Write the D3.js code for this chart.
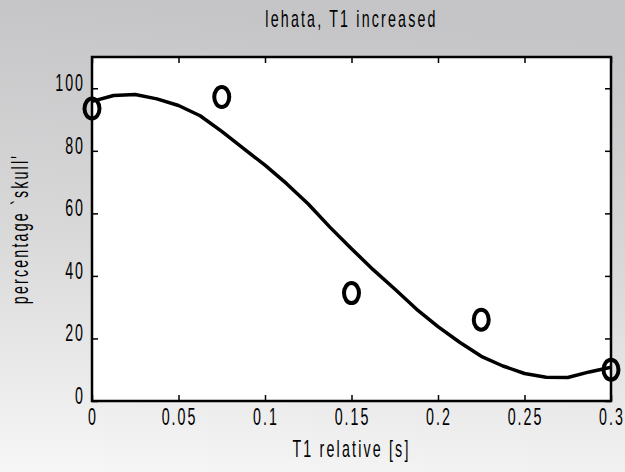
<!DOCTYPE html>
<html><head><meta charset="utf-8">
<script src="https://cdn.jsdelivr.net/npm/d3@7"></script>
<style>
html,body{margin:0;padding:0;overflow:hidden;}
</style></head>
<body>
<svg id="chart" width="625" height="472"></svg>
<script>
// data
const pointX = [0, 0.075, 0.15, 0.225, 0.3];
const pointY = [93.5, 97.2, 34.5, 26, 10];
const curveX = [0,0.0125,0.025,0.0375,0.05,0.0625,0.075,0.0875,0.1,0.1125,0.125,0.1375,0.15,0.1625,0.175,0.1875,0.2,0.2125,0.225,0.2375,0.25,0.2625,0.275,0.2875,0.3];
const curveY = [95.8,97.7,98.0,96.6,94.5,91.2,86.2,80.8,75.4,69.5,63.0,55.6,48.7,42.0,35.8,29.4,23.8,18.8,14.3,11.2,8.8,7.6,7.5,9.3,10.8];
const xTicks = [0,0.05,0.1,0.15,0.2,0.25,0.3];
const xTickLabels = ["0","0.05","0.1","0.15","0.2","0.25","0.3"];
const yTicks = [0,20,40,60,80,100];
const yTickLabels = ["0","20","40","60","80","100"];
const title = "lehata, T1 increased";
const xLabel = "T1 relative [s]";
const yLabel = "percentage `skull'";

const W = 625, H = 472;
const L = 92, R = 611, T = 57, B = 401;
const SX = 0.62;       // horizontal condensing of the font
const FS = 23;          // font size
const svg = d3.select("#chart");

// background
const defs = svg.append("defs");
const g = defs.append("linearGradient").attr("id","bg").attr("x1","0.1").attr("y1","0").attr("x2","0").attr("y2","1");
g.append("stop").attr("offset","0").attr("stop-color","#c5c5c7");
g.append("stop").attr("offset","0.5").attr("stop-color","#d9d9da");
g.append("stop").attr("offset","1").attr("stop-color","#f7f7f7");
svg.append("rect").attr("width",W).attr("height",H).attr("fill","url(#bg)");

const x = d3.scaleLinear().domain([0,0.3]).range([L,R]);
const y = d3.scaleLinear().domain([0,110]).range([B,T]);

svg.append("rect").attr("x",L).attr("y",T).attr("width",R-L).attr("height",B-T).attr("fill","#fff");

const tickLen = 6;
const xb = svg.append("g").attr("transform",`translate(0,${B})`)
  .call(d3.axisBottom(x).tickValues(xTicks).tickFormat("").tickSizeInner(-tickLen).tickSizeOuter(0));
const xt = svg.append("g").attr("transform",`translate(0,${T})`)
  .call(d3.axisTop(x).tickValues(xTicks).tickFormat("").tickSizeInner(-tickLen).tickSizeOuter(0));
const yl = svg.append("g").attr("transform",`translate(${L},0)`)
  .call(d3.axisLeft(y).tickValues(yTicks).tickFormat("").tickSizeInner(-tickLen).tickSizeOuter(0));
const yr = svg.append("g").attr("transform",`translate(${R},0)`)
  .call(d3.axisRight(y).tickValues(yTicks).tickFormat("").tickSizeInner(-tickLen).tickSizeOuter(0));
[xb,xt,yl,yr].forEach(a=>{ a.select(".domain").remove(); a.selectAll("line").attr("stroke","#000").attr("stroke-width",1.5); a.selectAll("text").remove(); });

// condensed text helper
function ctext(parent, tx, ty, str, anchor, rot, ls){
  const t = parent.append("text")
    .attr("transform",`translate(${tx},${ty})${rot?` rotate(${rot})`:""} scale(${SX},1)`)
    .attr("text-anchor",anchor)
    .attr("font-family","'Liberation Sans',Arial,sans-serif")
    .attr("font-size",FS+"px")
    .attr("letter-spacing",ls+"px")
    .attr("fill","#000")
    .text(str);
  return t;
}
const LS = 3.2;
// tick labels
xTicks.forEach((v,i)=>ctext(svg, x(v)+ (LS*SX)/2, 425, xTickLabels[i], "middle", 0, LS));
yTicks.forEach((v,i)=>ctext(svg, 83 + LS*SX, y(v)+3, yTickLabels[i], "end", 0, LS));

// box
svg.append("rect").attr("x",L).attr("y",T).attr("width",R-L).attr("height",B-T)
  .attr("fill","none").attr("stroke","#000").attr("stroke-width",2.5);

// curve
const line = d3.line().x(d=>x(d[0])).y(d=>y(d[1]));
svg.append("path").datum(curveX.map((v,i)=>[v,curveY[i]]))
  .attr("d",line).attr("fill","none").attr("stroke","#000").attr("stroke-width",3.5).attr("stroke-linejoin","round");

// points
svg.selectAll("ellipse.pt").data(pointX.map((v,i)=>[v,pointY[i]])).enter().append("ellipse")
  .attr("class","pt").attr("cx",d=>x(d[0])).attr("cy",d=>y(d[1])).attr("rx",7.5).attr("ry",10)
  .attr("fill","none").attr("stroke","#000").attr("stroke-width",4);

// labels
ctext(svg, (L+R)/2, 27, title, "middle", 0, 3.5);
ctext(svg, (L+R)/2, 457, xLabel, "middle", 0, 3.5);
ctext(svg, 28, (T+B)/2, yLabel, "middle", -90, 3.5);
</script>
</body></html>
